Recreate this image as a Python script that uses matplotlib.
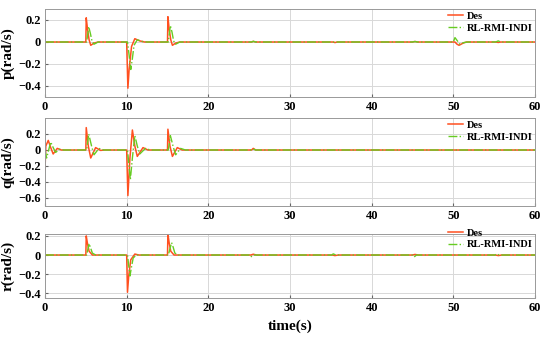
import matplotlib.pyplot as plt

plt.rcParams['font.family'] = ['Liberation Serif', 'DejaVu Serif']
plt.rcParams['font.weight'] = 'bold'

# --- breakpoints (time in s, rate in rad/s) ---
p_des_t = [0, 5.0, 5.05, 5.2, 5.4, 5.6, 6.0, 6.5, 10.0, 10.15, 10.3, 10.6, 11.0, 11.6, 12.2,
           15.0, 15.05, 15.2, 15.4, 15.6, 16.0, 16.5, 25.3, 25.5, 25.8, 35.3, 35.5, 35.8,
           45.0, 45.3, 45.6, 50.2, 50.45, 50.7, 51.2, 51.6, 55.2, 55.5, 55.8, 60]
p_des_v = [0, 0, 0.22, 0.12, 0.02, -0.03, -0.01, 0, 0, -0.42, -0.25, -0.04, 0.03, 0.01, 0,
           0, 0.23, 0.12, 0.02, -0.03, -0.01, 0, 0, 0.006, 0, 0, -0.005, 0,
           0, 0.005, 0, 0, -0.02, -0.03, -0.01, 0, 0, -0.004, 0, 0]
p_rl_t = [0, 5.1, 5.35, 5.55, 5.75, 6.0, 6.5, 10.1, 10.3, 10.5, 10.7, 10.9, 11.3, 11.9, 12.5,
          15.1, 15.35, 15.55, 15.75, 16.0, 16.5, 25.3, 25.5, 25.8, 35.3, 35.5, 35.8,
          45.0, 45.3, 45.6, 50.0, 50.2, 50.5, 50.8, 51.3, 51.8, 55.2, 55.5, 55.8, 60]
p_rl_v = [0, 0, 0.14, 0.08, 0.01, -0.02, 0, 0, -0.12, -0.25, -0.15, -0.03, 0.02, 0.005, 0,
          0, 0.15, 0.09, 0.01, -0.02, 0, 0, 0.006, 0, 0, -0.004, 0,
          0, 0.004, 0, 0, 0.04, 0.01, -0.02, -0.005, 0, 0, 0.01, 0, 0]

q_des_t = [0, 0.1, 0.4, 0.7, 1.0, 1.5, 2.0, 5.0, 5.05, 5.3, 5.6, 6.2, 6.8, 7.3,
           10.0, 10.15, 10.4, 10.7, 11.0, 11.3, 12.0, 12.6,
           15.0, 15.05, 15.3, 15.6, 16.2, 16.8, 25.3, 25.5, 25.8, 60]
q_des_v = [-0.25, 0.05, 0.12, 0.03, -0.05, 0.02, 0, 0, 0.28, 0.05, -0.1, 0.03, -0.005, 0,
           0, -0.57, -0.1, 0.25, 0.05, -0.08, 0.03, 0,
           0, 0.26, 0.05, -0.08, 0.03, 0, 0, 0.02, 0, 0]
q_rl_t = [0, 0.2, 0.7, 1.0, 1.3, 1.8, 2.3, 5.1, 5.35, 5.7, 6.0, 6.6, 7.2,
          10.1, 10.45, 10.7, 11.0, 11.3, 11.6, 12.3, 12.9,
          15.1, 15.35, 15.7, 16.0, 16.6, 17.2, 25.3, 25.5, 25.8, 60]
q_rl_v = [0, -0.1, 0.1, 0.03, -0.03, 0.01, 0, 0, 0.2, 0.05, -0.06, 0.02, 0,
          0, -0.37, -0.1, 0.18, 0.05, -0.05, 0.02, 0,
          0, 0.18, 0.04, -0.06, 0.02, 0, 0, 0.012, 0, 0]

r_des_t = [0, 5.0, 5.05, 5.2, 5.4, 5.8, 6.3, 10.0, 10.1, 10.25, 10.5, 11.0, 11.5,
           15.0, 15.05, 15.2, 15.4, 15.8, 16.3, 25.2, 25.5, 25.9, 35.2, 35.5, 35.9,
           45.0, 45.3, 45.7, 55.2, 55.5, 55.9, 60]
r_des_v = [0, 0, 0.2, 0.12, 0.04, 0, 0, 0, -0.39, -0.22, -0.05, 0.01, 0,
           0, 0.22, 0.13, 0.04, 0, 0, 0, 0.008, 0, 0, -0.006, 0,
           0, 0.006, 0, 0, -0.006, 0, 0]
r_rl_t = [0, 5.1, 5.4, 5.6, 5.8, 6.2, 10.1, 10.4, 10.6, 10.8, 11.2, 15.1, 15.5, 15.7, 15.9, 16.3,
          25.0, 25.2, 25.5, 35.1, 35.3, 35.6, 45.0, 45.2, 45.5, 55.1, 55.3, 55.6, 60]
r_rl_v = [0, 0, 0.12, 0.07, 0.02, 0, 0, -0.22, -0.12, -0.03, 0, 0, 0.13, 0.08, 0.02, 0,
          0, -0.02, 0, 0, 0.012, 0, 0, -0.02, 0, 0, 0.012, 0, 0]

panels = [
    ('p(rad/s)', p_des_t, p_des_v, p_rl_t, p_rl_v, (-0.5, 0.3), [-0.4, -0.2, 0, 0.2]),
    ('q(rad/s)', q_des_t, q_des_v, q_rl_t, q_rl_v, (-0.7, 0.4), [-0.6, -0.4, -0.2, 0, 0.2]),
    ('r(rad/s)', r_des_t, r_des_v, r_rl_t, r_rl_v, (-0.45, 0.22), [-0.4, -0.2, 0, 0.2]),
]
xticks = [0, 10, 20, 30, 40, 50, 60]

DES_COLOR = '#FF5020'
RL_COLOR = '#66CC22'

fig = plt.figure(figsize=(5.5, 3.39), dpi=100)
# axes boxes in pixel terms: top, bottom, legend anchor
boxes = [(9, 97, 1.0), (118, 206, 1.0), (234, 298, 1.13)]
W, H = 550, 339
for (label, dt, dv, rt, rv, ylim, yticks), (top, bot, leg_y) in zip(panels, boxes):
    ax = fig.add_axes([45 / W, 1 - bot / H, (535 - 45) / W, (bot - top) / H])
    ax.plot(dt, dv, color=DES_COLOR, lw=1.1, label='Des')
    ax.plot(rt, rv, color=RL_COLOR, lw=1.0, ls='-.', label='RL-RMI-INDI')
    ax.set_xlim(0, 60)
    ax.set_ylim(*ylim)
    ax.set_xticks(xticks)
    ax.set_yticks(yticks)
    ax.set_yticklabels(['0' if v == 0 else f'{v:g}'.replace('-', '\u2212') for v in yticks])
    ax.grid(True, color='#d8d8d8', lw=0.7)
    ax.tick_params(labelsize=9, length=2, direction='in', color='#666666', pad=3)
    for s in ax.spines.values():
        s.set_color('#999999')
        s.set_linewidth(0.7)
    ax.set_ylabel(label, fontsize=11, fontweight='bold')
    ax.yaxis.set_label_coords(-0.062, 0.5)
    leg = ax.legend(loc='upper right', bbox_to_anchor=(1.0, leg_y), fontsize=7.5,
                    frameon=False, handlelength=1.5, handletextpad=0.3,
                    borderpad=0.15, labelspacing=0.25, borderaxespad=0.1)
    for t in leg.get_texts():
        t.set_fontweight('bold')

ax.set_xlabel('time(s)', fontsize=11, fontweight='bold', labelpad=4)

fig.savefig('out.png', dpi=100)
